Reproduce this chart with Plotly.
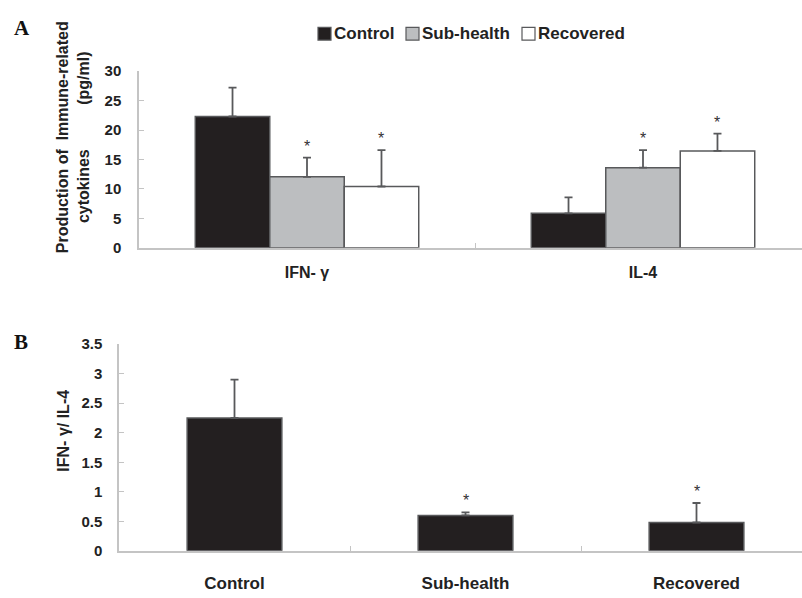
import plotly.graph_objects as go

# ---------------- data ----------------
groups = ["Control", "Sub-health", "Recovered"]
cytokines = ["IFN- γ", "IL-4"]

control_vals = [22.3, 5.85]
control_err = [4.9, 2.7]
subhealth_vals = [12.05, 13.6]
subhealth_err = [3.25, 3.0]
recovered_vals = [10.4, 16.45]
recovered_err = [6.2, 2.95]
sig_a = [False, True, True]          # star per group (both cytokines)

ratio_vals = [2.25, 0.60, 0.48]
ratio_err = [0.65, 0.05, 0.33]
sig_b = [False, True, True]

yticks_a = [0, 5, 10, 15, 20, 25, 30]
yticks_b = [0, 0.5, 1, 1.5, 2, 2.5, 3, 3.5]

# ---------------- style ----------------
W, H = 802, 598
colors = ["#231f20", "#bcbec0", "#ffffff"]
edge = "#58595b"
axis_col = "#c4c4c4"
FONT = "Liberation Sans, Arial, sans-serif"
SERIF = "Liberation Serif, Times New Roman, serif"
BARGAP_A = 0.335


def px_x(x):
    return x / W


def px_y(y):
    return 1 - y / H


# axes geometry (pixels)
ax_a_left, ax_a_bottom, ax_a_top = 139, 245.7, 64
ax_b_left, ax_b_bottom, ax_b_top = 119, 557.7, 345
cat_w_a = 336
cat_w_b = 231
bar_px_a = cat_w_a * (1 - BARGAP_A) / len(groups)

fig = go.Figure()

vals_a = [control_vals, subhealth_vals, recovered_vals]
errs_a = [control_err, subhealth_err, recovered_err]
for i, g in enumerate(groups):
    fig.add_trace(go.Bar(
        x=cytokines, y=vals_a[i], name=g,
        marker=dict(color=colors[i], line=dict(color=edge, width=1.5)),
        error_y=dict(type="data", array=errs_a[i], arrayminus=[0] * len(cytokines),
                     symmetric=False, color=edge, thickness=1.8, width=4),
        xaxis="x", yaxis="y", showlegend=False,
    ))

fig.add_trace(go.Bar(
    x=groups, y=ratio_vals, width=0.41, name="IFN- γ/ IL-4",
    marker=dict(color=colors[0], line=dict(color=edge, width=1.5)),
    error_y=dict(type="data", array=ratio_err, arrayminus=[0] * len(groups),
                 symmetric=False, color=edge, thickness=1.8, width=4),
    xaxis="x2", yaxis="y2", showlegend=False,
))

tickfont = dict(family=FONT, size=15, color="#222222")
common_x = dict(type="category", showline=True, linecolor=axis_col, linewidth=1.5,
                ticks="inside", tickson="boundaries", ticklen=5, tickcolor=axis_col,
                tickwidth=1.2, showgrid=False, zeroline=False)
common_y = dict(showline=True, linecolor=axis_col, linewidth=1.5, ticks="inside",
                ticklen=5, tickcolor=axis_col, tickwidth=1.2, showgrid=False,
                zeroline=False, tickfont=tickfont)

fig.update_layout(
    width=W, height=H, margin=dict(l=0, r=0, t=0, b=0),
    paper_bgcolor="white", plot_bgcolor="white",
    barmode="group", bargap=BARGAP_A, bargroupgap=0,
    xaxis=dict(common_x, domain=[px_x(ax_a_left), 1], anchor="y",
               range=[-0.5, -0.5 + (W - ax_a_left) / cat_w_a],
               tickvals=cytokines, ticktext=["<b>" + c + "</b>" for c in cytokines],
               tickfont=dict(family=FONT, size=16, color="#222222"),
               ticklabelstandoff=9),
    yaxis=dict(common_y, domain=[px_y(ax_a_bottom), px_y(ax_a_top)], anchor="x",
               range=[0, 30], tickvals=yticks_a,
               ticktext=["<b>%g</b>" % v for v in yticks_a], ticklabelstandoff=13),
    xaxis2=dict(common_x, domain=[px_x(ax_b_left), 1], anchor="y2",
                range=[-0.5, -0.5 + (W - ax_b_left) / cat_w_b],
                tickvals=groups, ticktext=["<b>" + g + "</b>" for g in groups],
                tickfont=dict(family=FONT, size=17, color="#222222"),
                ticklabelstandoff=16),
    yaxis2=dict(common_y, domain=[px_y(ax_b_bottom), px_y(ax_b_top)], anchor="x2",
                range=[0, 3.5], tickvals=yticks_b,
                ticktext=["<b>%g</b>" % v for v in yticks_b], ticklabelstandoff=12),
    font=dict(family=FONT, color="#222222"),
)

annotations = [
    dict(text="<b>A</b>", x=px_x(12), y=px_y(20), xanchor="left", yanchor="middle",
         font=dict(family=SERIF, size=21, color="#111111")),
    dict(text="<b>B</b>", x=px_x(12), y=px_y(343), xanchor="left", yanchor="middle",
         font=dict(family=SERIF, size=21, color="#111111")),
    dict(text="<b>Production of  Immune-related<br>cytokines" + "\u00a0" * 10 + "(pg/ml)</b>",
         x=px_x(73), y=px_y(132), textangle=-90, xanchor="center", yanchor="middle",
         font=dict(family=FONT, size=16, color="#222222")),
    dict(text="<b>IFN- γ/ IL-4</b>", x=px_x(64), y=px_y(434), textangle=-90,
         xanchor="center", yanchor="middle",
         font=dict(family=FONT, size=16, color="#222222")),
]

# significance stars (panel A: offset within each cytokine group by bar width)
for i, g in enumerate(groups):
    if sig_a[i]:
        for c, v, e in zip(cytokines, vals_a[i], errs_a[i]):
            annotations.append(dict(
                text="*", x=c, y=v + e, xref="x", yref="y",
                xshift=(i - (len(groups) - 1) / 2) * bar_px_a,
                xanchor="center", yanchor="bottom", yshift=1,
                font=dict(family=FONT, size=16, color="#333333")))
for g, v, e, s in zip(groups, ratio_vals, ratio_err, sig_b):
    if s:
        annotations.append(dict(
            text="*", x=g, y=v + e, xref="x2", yref="y2",
            xanchor="center", yanchor="bottom", yshift=1,
            font=dict(family=FONT, size=16, color="#333333")))

# manual legend
legend_sq_x = [318, 406, 522]
legend_y = 25.5
sq = 13
shapes = []
for i, g in enumerate(groups):
    x0 = legend_sq_x[i]
    shapes.append(dict(type="rect", xref="paper", yref="paper",
                       x0=px_x(x0), x1=px_x(x0 + sq),
                       y0=px_y(legend_y + sq / 2), y1=px_y(legend_y - sq / 2),
                       fillcolor=colors[i], line=dict(color=edge, width=1.2)))
    annotations.append(dict(text="<b>" + g + "</b>", x=px_x(x0 + sq + 1), y=px_y(legend_y),
                            xanchor="left", yanchor="middle",
                            font=dict(family=FONT, size=17, color="#222222")))

for a in annotations:
    a.setdefault("xref", "paper")
    a.setdefault("yref", "paper")
    a["showarrow"] = False
fig.update_layout(annotations=annotations, shapes=shapes)

fig.write_html(
    "out.html", config={"displayModeBar": False},
    post_script="document.documentElement.style.margin='0';"
                "document.body.style.margin='0';document.body.style.padding='0';")
